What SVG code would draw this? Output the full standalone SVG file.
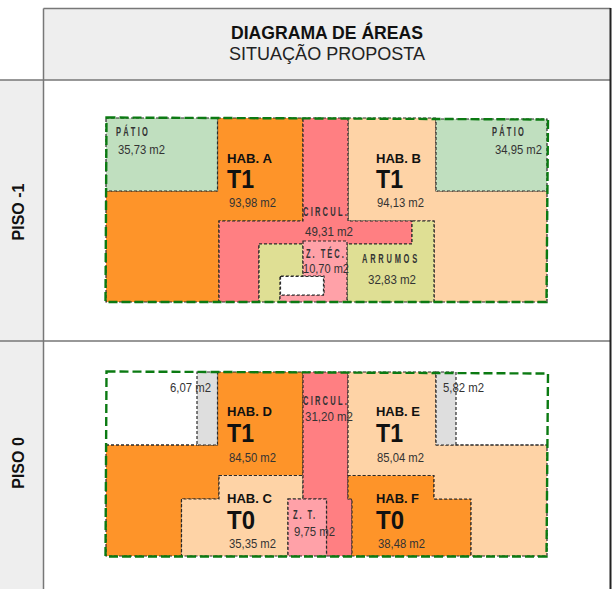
<svg xmlns="http://www.w3.org/2000/svg" width="615" height="589" viewBox="0 0 615 589">
<style>
text{font-family:"Liberation Sans",Arial,sans-serif;fill:#111}
.room{stroke:#2a2a2a;stroke-width:1.2;stroke-dasharray:3 2}
.or{fill:#fe9429}.pe{fill:#fed3a6}.ci{fill:#ff7f82}.pk{fill:#ffa1a8}.ol{fill:#dfdf94}.gn{fill:#c0dfbf}.gy{fill:#dedede}.wh{fill:#fff}
.bound{fill:none;stroke:#0b7a12;stroke-width:2.4;stroke-dasharray:9 4}
.frame{fill:none;stroke:#777;stroke-width:1.5}
.a{font-size:13px;fill:#333}
.h{font-size:13px;font-weight:700}
.t{font-size:26px;font-weight:700}
.n{font-size:12.500px;font-weight:700;fill:#333}
</style>
<g id="frame">
<rect x="43.5" y="8.500" width="567" height="71.500" fill="#eeeeee"/>
<rect x="0" y="80" width="43.500" height="509" fill="#eeeeee"/>
<path class="frame" d="M43.500 8.500H610.500M0 80H610.500M0 341H610.500M43.500 8.500V589"/>
<path d="M610.500 8V589" stroke="#222" stroke-width="2" fill="none"/>
<text x="327" y="39" text-anchor="middle" font-size="17.500" font-weight="700" textLength="192" lengthAdjust="spacingAndGlyphs">DIAGRAMA DE ÁREAS</text>
<text x="327" y="60" text-anchor="middle" font-size="17.500" style="fill:#222" textLength="196" lengthAdjust="spacingAndGlyphs">SITUAÇÃO PROPOSTA</text>
<text transform="translate(23.500 212) rotate(-90)" text-anchor="middle" font-size="16" font-weight="700">PISO -1</text>
<text transform="translate(23.500 463) rotate(-90)" text-anchor="middle" font-size="16" font-weight="700">PISO 0</text>
</g>
<g id="piso-menos-1">
<g id="hab-a"><path class="room or" d="M106 191H217.500V118H303V221H219V302H106Z"/></g>
<g id="hab-b"><path class="room pe" d="M348 118H436V191H547V302H434V221H348Z"/></g>
<g id="circul-a"><path class="room ci" d="M303 118H348V221H412V244H259V302H219V221H303Z"/></g>
<g id="arrumos"><path class="room ol" d="M412 221H434V302H347V244H412Z"/><path class="room ol" d="M259 244H303V276H280V302H259Z"/></g>
<g id="z-tec"><path class="room pk" d="M303 241H347V302H280V295H324V276H303Z"/></g>
<g id="vazio"><rect class="room wh" x="280.500" y="276.500" width="43" height="18.500"/></g>
<g id="patio-a"><rect class="room gn" x="106" y="118" width="111.500" height="73"/></g>
<g id="patio-b"><rect class="room gn" x="436" y="119" width="111" height="72"/></g>
<path class="bound" d="M106.500 117.500L548 119.500L546.500 302H105.500Z"/>
</g>
<g id="piso-0">
<g id="hab-d"><path class="room or" d="M106 445H217.500V372H303V475.500H219V499H181.500V556H106Z"/></g>
<g id="hab-c"><path class="room pe" d="M219 475.500H303V499H288V556H181.500V499H219Z"/></g>
<g id="circul-b"><path class="room ci" d="M303 372H348V499H352V556H326.500V499H303Z"/></g>
<g id="z-t"><rect class="room pk" x="288" y="499" width="38.500" height="57"/></g>
<g id="hab-f"><path class="room or" d="M348 475.500H434V499H471V556H352V499H348Z"/></g>
<g id="hab-e"><path class="room pe" d="M348 372H436V445H547V556H471V499H434V475.500H348Z"/></g>
<g id="arrumo-d"><rect class="room gy" x="197" y="372" width="20.500" height="73"/></g>
<g id="arrumo-e"><rect class="room gy" x="436" y="372" width="20" height="73"/></g>
<path class="room" fill="none" d="M106 445H197M456 445H547"/>
<path class="bound" d="M106.500 371.500L548 373.500L546.500 556.500H105.500Z"/>
</g>
<g id="labels">
<text class="n" transform="translate(116 136) scale(.6 1)" textLength="53" lengthAdjust="spacing">PÁTIO</text>
<text class="a" x="118" y="154" textLength="47" lengthAdjust="spacingAndGlyphs">35,73 m2</text>
<text class="n" transform="translate(492 136) scale(.6 1)" textLength="53" lengthAdjust="spacing">PÁTIO</text>
<text class="a" x="495" y="154" textLength="47" lengthAdjust="spacingAndGlyphs">34,95 m2</text>
<text class="h" x="227" y="163" textLength="45" lengthAdjust="spacingAndGlyphs">HAB. A</text>
<text class="t" x="227" y="188" textLength="27" lengthAdjust="spacingAndGlyphs">T1</text>
<text class="a" x="229" y="207" textLength="47" lengthAdjust="spacingAndGlyphs">93,98 m2</text>
<text class="h" x="376" y="163" textLength="45" lengthAdjust="spacingAndGlyphs">HAB. B</text>
<text class="t" x="376" y="188" textLength="27" lengthAdjust="spacingAndGlyphs">T1</text>
<text class="a" x="377" y="207" textLength="47" lengthAdjust="spacingAndGlyphs">94,13 m2</text>
<text class="n" transform="translate(303 216) scale(.6 1)" textLength="73" lengthAdjust="spacing">CIRCUL.</text>
<text class="a" x="305" y="236" textLength="48" lengthAdjust="spacingAndGlyphs">49,31 m2</text>
<text class="n" transform="translate(306 258) scale(.6 1)" textLength="63" lengthAdjust="spacing">Z. TÉC.</text>
<text class="a" x="303" y="273" textLength="46" lengthAdjust="spacingAndGlyphs">10,70 m2</text>
<text class="n" transform="translate(362 263) scale(.6 1)" textLength="92" lengthAdjust="spacing">ARRUMOS</text>
<text class="a" x="368" y="284" textLength="48" lengthAdjust="spacingAndGlyphs">32,83 m2</text>
<text class="a" x="170" y="392" textLength="41" lengthAdjust="spacingAndGlyphs">6,07 m2</text>
<text class="a" x="443" y="392" textLength="41" lengthAdjust="spacingAndGlyphs">5,82 m2</text>
<text class="h" x="227" y="416" textLength="45" lengthAdjust="spacingAndGlyphs">HAB. D</text>
<text class="t" x="227" y="442" textLength="27" lengthAdjust="spacingAndGlyphs">T1</text>
<text class="a" x="229" y="462" textLength="47" lengthAdjust="spacingAndGlyphs">84,50 m2</text>
<text class="h" x="376" y="416" textLength="44" lengthAdjust="spacingAndGlyphs">HAB. E</text>
<text class="t" x="376" y="442" textLength="27" lengthAdjust="spacingAndGlyphs">T1</text>
<text class="a" x="377" y="462" textLength="47" lengthAdjust="spacingAndGlyphs">85,04 m2</text>
<text class="n" transform="translate(303 405) scale(.6 1)" textLength="73" lengthAdjust="spacing">CIRCUL.</text>
<text class="a" x="305" y="421" textLength="48" lengthAdjust="spacingAndGlyphs">31,20 m2</text>
<text class="h" x="227" y="503" textLength="45" lengthAdjust="spacingAndGlyphs">HAB. C</text>
<text class="t" x="227" y="529" textLength="28" lengthAdjust="spacingAndGlyphs">T0</text>
<text class="a" x="229" y="548" textLength="47" lengthAdjust="spacingAndGlyphs">35,35 m2</text>
<text class="n" transform="translate(293 519) scale(.6 1)" textLength="37" lengthAdjust="spacing">Z. T.</text>
<text class="a" x="294" y="536" textLength="41" lengthAdjust="spacingAndGlyphs">9,75 m2</text>
<text class="h" x="376" y="503" textLength="43" lengthAdjust="spacingAndGlyphs">HAB. F</text>
<text class="t" x="376" y="529" textLength="28" lengthAdjust="spacingAndGlyphs">T0</text>
<text class="a" x="378" y="548" textLength="47" lengthAdjust="spacingAndGlyphs">38,48 m2</text>
</g>
</svg>
